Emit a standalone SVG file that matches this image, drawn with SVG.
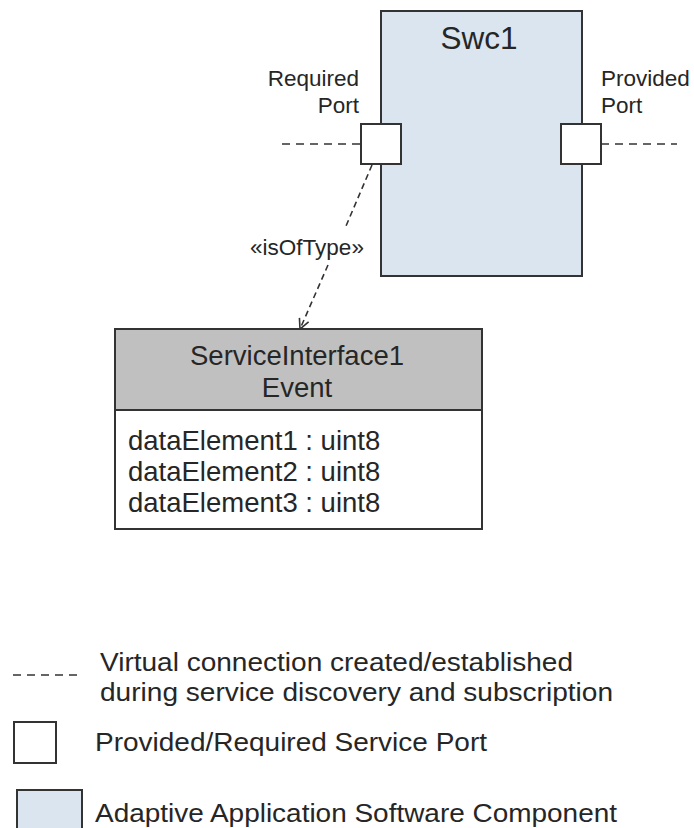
<svg xmlns="http://www.w3.org/2000/svg" width="694" height="828" viewBox="0 0 694 828">
  <style>
    text { font-family: "Liberation Sans", Arial, sans-serif; fill: #262626; }
    .box { stroke: #333; stroke-width: 2; }
    .swc { fill: #dbe5f0; }
    .port { fill: #ffffff; }
    .hdr { fill: #c0c0c0; }
    .virt { fill: none; stroke: #333; stroke-width: 1.6; stroke-dasharray: 8 6; }
    .dep { fill: none; stroke: #333; stroke-width: 1.6; stroke-dasharray: 6 4; }
    .lbl { font-size: 22.5px; }
    .leg { font-size: 26px; }
  </style>
  <defs>
    <marker id="open" viewBox="0 0 12 12" refX="11" refY="6" markerWidth="12" markerHeight="12" markerUnits="userSpaceOnUse" orient="auto">
      <path d="M1,1 L11,6 L1,11" fill="none" stroke="#333" stroke-width="1.6"/>
    </marker>
  </defs>

  <g id="swc1">
    <rect class="box swc" x="381" y="11" width="201" height="265"/>
    <text x="479" y="49" font-size="31.5" text-anchor="middle">Swc1</text>
  </g>

  <g id="required-port">
    <rect class="box port" x="361" y="124" width="40" height="40"/>
    <text class="lbl" x="359" y="86" text-anchor="end">Required</text>
    <text class="lbl" x="359" y="113" text-anchor="end">Port</text>
  </g>

  <g id="provided-port">
    <rect class="box port" x="561" y="124" width="40" height="40"/>
    <text class="lbl" x="601" y="86">Provided</text>
    <text class="lbl" x="601" y="113">Port</text>
  </g>

  <g id="service-interface">
    <rect class="box hdr" x="115" y="329" width="367" height="81"/>
    <rect class="box port" x="115" y="410" width="367" height="119"/>
    <text x="297" y="365" font-size="27.5" text-anchor="middle">ServiceInterface1</text>
    <text x="297" y="397" font-size="27.5" text-anchor="middle">Event</text>
    <text x="128" y="450" font-size="27.5">dataElement1 : uint8</text>
    <text x="128" y="481" font-size="27.5">dataElement2 : uint8</text>
    <text x="128" y="512" font-size="27.5">dataElement3 : uint8</text>
  </g>

  <g id="connectors">
    <line class="virt" x1="282" y1="144" x2="361" y2="144"/>
    <line class="virt" x1="601" y1="144" x2="677" y2="144"/>
    <line class="dep" x1="372" y1="165" x2="346" y2="226"/>
    <line class="dep" x1="328" y1="265" x2="300" y2="329" marker-end="url(#open)"/>
    <text class="lbl" x="307" y="255" font-size="23" text-anchor="middle">«isOfType»</text>
  </g>

  <g id="legend">
    <line class="virt" x1="13" y1="675" x2="82" y2="675"/>
    <text class="leg" x="100" y="671" textLength="473" lengthAdjust="spacingAndGlyphs">Virtual connection created/established</text>
    <text class="leg" x="100" y="701" textLength="513" lengthAdjust="spacingAndGlyphs">during service discovery and subscription</text>
    <rect class="box port" x="14" y="722" width="42" height="41"/>
    <text class="leg" x="95" y="751" textLength="392" lengthAdjust="spacingAndGlyphs">Provided/Required Service Port</text>
    <rect class="box swc" x="17" y="790" width="65" height="45"/>
    <text class="leg" x="95" y="822" textLength="522" lengthAdjust="spacingAndGlyphs">Adaptive Application Software Component</text>
  </g>
</svg>
